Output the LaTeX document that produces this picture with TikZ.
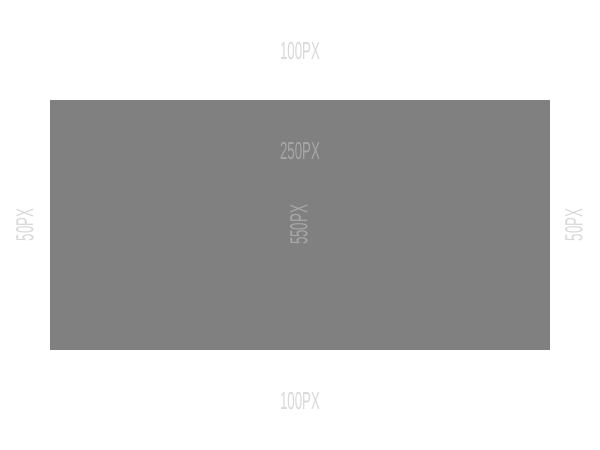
\documentclass[tikz,border=0pt]{standalone}
\usepackage{fontspec}
\setmainfont{Liberation Sans}
\definecolor{boxgray}{HTML}{808080}
\definecolor{outtext}{HTML}{D8D8D8}
\definecolor{intext}{HTML}{A8A8A8}
\tikzset{
  lbl/.style={inner sep=0pt, font=\fontsize{14}{14}\selectfont},
}
\newcommand{\cond}[1]{\scalebox{0.54}[1]{#1}}
\begin{document}
\begin{tikzpicture}[x=0.02cm,y=-0.02cm]
\useasboundingbox[fill=white] (0,0) rectangle (600,450);
\node[fill=boxgray, minimum width=10cm, minimum height=5cm, inner sep=0pt, anchor=north west] (box) at (50,100) {};
\node[lbl, text=outtext] (top) at (300,51) {\cond{100PX}};
\node[lbl, text=outtext] (bottom) at (300,401) {\cond{100PX}};
\node[lbl, text=intext] (inner) at (300,151) {\cond{250PX}};
\node[lbl, text=intext, rotate=90] (mid) at (299,225) {\cond{550PX}};
\node[lbl, text=outtext, rotate=90] (left) at (25,225) {\cond{50PX}};
\node[lbl, text=outtext, rotate=90] (right) at (574,225) {\cond{50PX}};
\end{tikzpicture}
\end{document}
